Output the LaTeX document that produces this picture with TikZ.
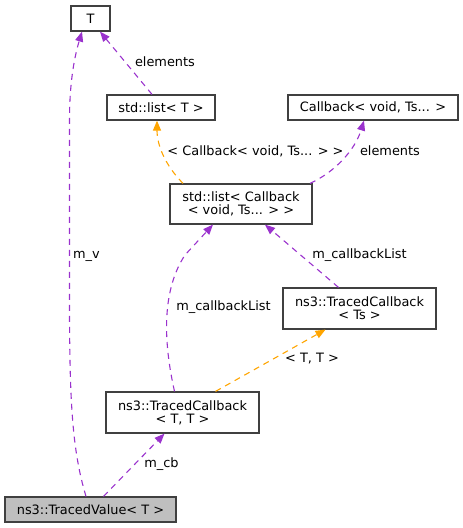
\documentclass[tikz,border=0pt]{standalone}
\usepackage{fontspec}
\setmainfont{DejaVu Sans}
\usetikzlibrary{arrows.meta,calc}
\definecolor{edgepurple}{HTML}{9A32CD}
\definecolor{edgeorange}{HTML}{FFA500}
\definecolor{boxborder}{HTML}{404040}
\definecolor{boxgray}{HTML}{BFBFBF}
\begin{document}
\begin{tikzpicture}[x=1pt,y=-1pt,
  box/.style={draw=boxborder,line width=1.2pt,fill=white,inner sep=0pt,align=center,font=\fontsize{12.9}{13.3}\selectfont},
  lbl/.style={inner sep=0pt,font=\fontsize{12.9}{13.3}\selectfont},
  rel/.style={draw=edgepurple,line width=1.1pt,dash pattern=on 6pt off 5pt,-{Triangle[length=10pt,width=8pt,fill=edgepurple]}},
  inh/.style={draw=edgeorange,line width=1.1pt,dash pattern=on 6pt off 5pt,-{Triangle[length=10pt,width=8pt,fill=edgeorange]}}]
\useasboundingbox (0,0) rectangle (463,528);
\node[box,minimum width=39pt,minimum height=25pt] (T) at (90.5,18.5) {T};
\node[box,minimum width=108pt,minimum height=25pt] (listT) at (161,107.5) {std::list< T >};
\node[box,minimum width=170pt,minimum height=25pt] (cb) at (373,107.5) {Callback< void, Ts... >};
\node[box,minimum width=142pt,minimum height=40pt] (listcb) at (241,204) {std::list< Callback\\< void, Ts... > >};
\node[box,minimum width=153pt,minimum height=41pt] (tcts) at (359.5,308.5) {ns3::TracedCallback\\< Ts >};
\node[box,minimum width=153pt,minimum height=41pt] (tctt) at (182.5,412.5) {ns3::TracedCallback\\< T, T >};
\node[box,fill=boxgray,minimum width=171pt,minimum height=25pt] (tv) at (90.5,509.5) {ns3::TracedValue< T >};

\draw[rel] ($(tv.north)+(-4.5,0)$) .. controls (72,450) and (69.5,400) .. (69.5,300) -- (69.5,120) .. controls (69.5,80) and (75,55) .. ($(T.south)+(-8.5,0)$);
\draw[rel] ($(listT.north)+(-9,0)$) -- ($(T.south)+(9.5,0)$);
\draw[inh] ($(listcb.north)+(-58,0)$) .. controls (165,165) and (157,145) .. ($(listT.south)+(-4,0)$);
\draw[rel] ($(listcb.north)+(69,0)$) .. controls (335,172) and (355,150) .. ($(cb.south)+(-9,0)$);
\draw[rel] ($(tctt.north)+(-8,0)$) .. controls (163,340) and (162,290) .. (185,255) -- ($(listcb.south)+(-28,0)$);
\draw[rel] ($(tcts.north)+(-21,0)$) -- ($(listcb.south)+(24,0)$);
\draw[inh] ($(tctt.north)+(33,0)$) -- ($(tcts.south)+(-34,0)$);
\draw[rel] ($(tv.north)+(13,0)$) -- ($(tctt.south)+(-18,0)$);

\node[lbl] (l1) at (165,62) {elements};
\node[lbl] (l2) at (255.5,151) {< Callback< void, Ts... > >};
\node[lbl] (l3) at (390,151) {elements};
\node[lbl] (l4) at (86.5,256) {m\_v};
\node[lbl] (l5) at (359.5,255) {m\_callbackList};
\node[lbl] (l6) at (223.5,307) {m\_callbackList};
\node[lbl] (l7) at (312,359) {< T, T >};
\node[lbl] (l8) at (161.5,464) {m\_cb};
\end{tikzpicture}
\end{document}
